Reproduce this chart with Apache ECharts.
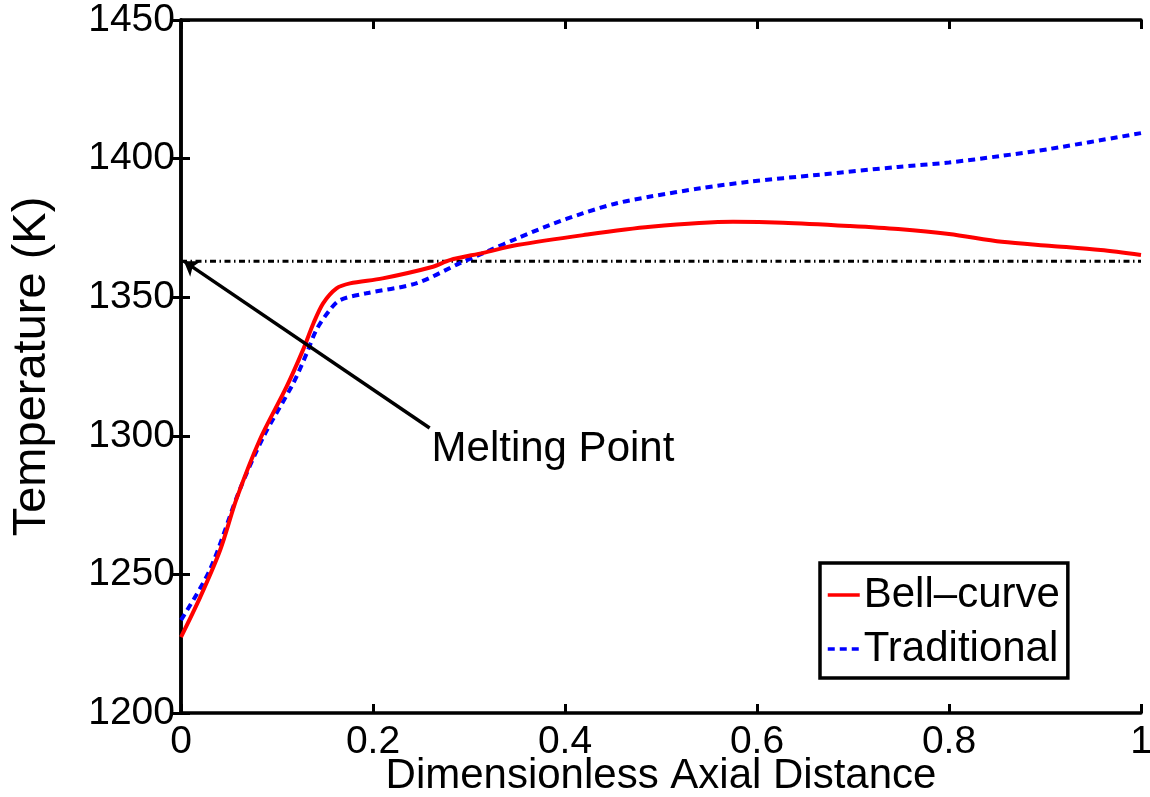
<!DOCTYPE html>
<html>
<head>
<meta charset="utf-8">
<script src="https://cdn.jsdelivr.net/npm/echarts@6/dist/echarts.min.js"></script>
<style>html,body{margin:0;padding:0;background:#fff}#c{width:1150px;height:797px}</style>
</head>
<body>
<div id="c"></div>
<script>
const bellX = [0, 0.02, 0.041, 0.058, 0.082, 0.11, 0.127, 0.138, 0.148, 0.162, 0.176, 0.21, 0.2625, 0.28, 0.315, 0.35, 0.419, 0.489, 0.575, 0.627, 0.697, 0.747, 0.8, 0.855, 0.907, 0.958, 1];
const bellT = [1227.4, 1241.8, 1259, 1277.4, 1298.5, 1317.7, 1330.9, 1340.6, 1347.8, 1353.2, 1355, 1356.8, 1361, 1363.4, 1366, 1368.8, 1372.4, 1375.4, 1377.2, 1376.9, 1375.7, 1374.6, 1372.8, 1370, 1368.5, 1367, 1365.2];
const tradX = [0, 0.03, 0.061, 0.086, 0.117, 0.131, 0.141, 0.155, 0.166, 0.193, 0.245, 0.29, 0.322, 0.35, 0.384, 0.419, 0.454, 0.489, 0.541, 0.593, 0.662, 0.747, 0.8, 0.853, 0.905, 1];
const tradT = [1233.5, 1251.6, 1280.4, 1299.7, 1319, 1329.8, 1338.2, 1345.4, 1349, 1351.4, 1355, 1362.2, 1367, 1371.2, 1376, 1380.3, 1383.9, 1386.3, 1389.3, 1391.7, 1394.1, 1397, 1398.6, 1400.9, 1403.5, 1409.2];
const meltingPoint = 1363;
const arrowFrom = [0.259, 1302.8];
const arrowTo = [0.003, 1363];
const annotationPos = [0.261, 1295];
const seriesNames = ['Bell\u2013curve', 'Traditional'];
const xTitle = 'Dimensionless Axial Distance';
const yTitle = 'Temperature (K)';
const annotationText = 'Melting Point';

const FONT = '"Liberation Sans", Arial, Helvetica, sans-serif';
const zip = (xs, ys) => xs.map((x, i) => [x, ys[i]]);

const chart = echarts.init(document.getElementById('c'), null, {renderer: 'canvas'});
const axisCommon = {
  axisLine: {show: true, lineStyle: {color: '#000', width: 3.5}},
  axisTick: {show: true, inside: true, length: 9, lineStyle: {color: '#000', width: 3}},
  splitLine: {show: false}
};
chart.setOption({
  animation: false,
  backgroundColor: '#fff',
  grid: {left: 181, right: 9, top: 20, bottom: 84, containLabel: false, outerBoundsMode: 'none'},
  legend: {
    orient: 'vertical', left: 820, top: 563,
    data: seriesNames,
    itemWidth: 32, itemHeight: 14, itemGap: 12,
    padding: [11, 8, 8, 6],
    borderColor: '#000', borderWidth: 3.5, backgroundColor: '#fff',
    itemStyle: {opacity: 0},
    lineStyle: {width: 3.5},
    textStyle: {fontFamily: FONT, fontSize: 42, color: '#000', padding: [0, 0, 0, -1]}
  },
  xAxis: [
    Object.assign({type: 'value', min: 0, max: 1, interval: 0.2, position: 'bottom',
      name: xTitle, nameLocation: 'middle', nameGap: 42, nameMoveOverlap: false,
      nameTextStyle: {fontFamily: FONT, fontSize: 42, color: '#000'},
      axisLabel: {fontFamily: FONT, fontSize: 39, color: '#000', margin: 10}}, axisCommon),
    Object.assign({type: 'value', min: 0, max: 1, interval: 0.2, position: 'top',
      axisLabel: {show: false}}, axisCommon)
  ],
  yAxis: [
    Object.assign({type: 'value', min: 1200, max: 1450, interval: 50, position: 'left',
      name: yTitle, nameLocation: 'middle', nameGap: 125, nameRotate: 90, nameMoveOverlap: false,
      nameTextStyle: {fontFamily: FONT, fontSize: 47, color: '#000'},
      axisLabel: {fontFamily: FONT, fontSize: 39, color: '#000', margin: 6, formatter: v => String(v)}}, axisCommon),
    Object.assign({type: 'value', min: 1200, max: 1450, interval: 50, position: 'right',
      axisLabel: {show: false}}, axisCommon)
  ],
  series: [
    {
      name: 'melting', type: 'line', data: [[0, meltingPoint], [1, meltingPoint]],
      symbol: 'none', silent: true,
      lineStyle: {color: '#000', width: 3, type: [6, 3.5, 1.5, 3.5]}, z: 1
    },
    {
      name: seriesNames[0], type: 'line', data: zip(bellX, bellT), smooth: 0.3,
      symbol: 'none', lineStyle: {color: '#ff0000', width: 4}, itemStyle: {color: '#ff0000'}, z: 3
    },
    {
      name: seriesNames[1], type: 'line', data: zip(tradX, tradT), smooth: 0.3,
      symbol: 'none', lineStyle: {color: '#0000ff', width: 4, type: [7, 5]}, itemStyle: {color: '#0000ff'}, z: 2
    },
    {
      name: 'arrow', type: 'lines', coordinateSystem: 'cartesian2d',
      data: [{coords: [arrowFrom, arrowTo]}],
      symbol: ['none', 'arrow'], symbolSize: 14,
      lineStyle: {color: '#000', width: 3.5, opacity: 1}, z: 4
    },
    {
      name: 'annot', type: 'scatter', data: [annotationPos], symbolSize: 0,
      itemStyle: {opacity: 1},
      label: {show: true, position: 'right', distance: 0, formatter: annotationText,
        fontFamily: FONT, fontSize: 42, color: '#000'}, z: 5
    }
  ]
});
</script>
</body>
</html>
